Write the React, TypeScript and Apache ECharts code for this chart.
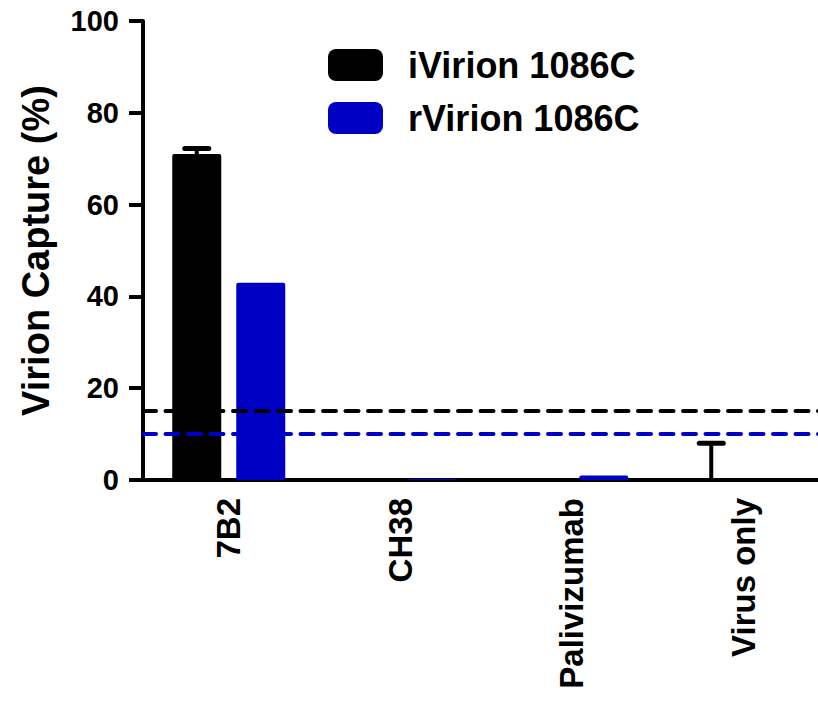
import React, { useEffect, useRef } from "react";
import * as echarts from "echarts";

const categories = ["7B2", "CH38", "Palivizumab", "Virus only"];
const seriesNames = ["iVirion 1086C", "rVirion 1086C"];
const iVirion = [71.0, 0.2, 0.2, 0];
const iVirionErr = [1.2, 0, 0, 8];
const rVirion = [43.0, 0.2, 1.0, 0];
const rVirionErr = [0, 0, 0, 0];
const thresholds = [15, 10];
const yTicks = { min: 0, max: 100, interval: 20 };

const BLACK = "#000000";
const BLUE = "#0000C4";
const FONT = "Liberation Sans";
const BAR_W = 49;
const GAP = 15;

function errSeries(vals: number[], errs: number[], offset: number, color: string) {
  return {
    type: "custom",
    silent: true,
    z: 5,
    data: vals.map((v, i) => [i, v, errs[i]]),
    renderItem: (params: any, api: any) => {
      const i = api.value(0);
      const v = api.value(1);
      const e = api.value(2);
      if (!e) return null;
      const p0 = api.coord([i, v]);
      const p1 = api.coord([i, v + e]);
      const x = p0[0] + offset;
      return {
        type: "group",
        children: [
          {
            type: "line",
            shape: { x1: x, y1: p0[1], x2: x, y2: p1[1] },
            style: { stroke: color, lineWidth: 4 },
          },
          {
            type: "line",
            shape: { x1: x - 12, y1: p1[1], x2: x + 12, y2: p1[1] },
            style: { stroke: color, lineWidth: 5, lineCap: "round" },
          },
        ],
      };
    },
  };
}

export default function App() {
  const ref = useRef<HTMLDivElement>(null);
  useEffect(() => {
    const chart = echarts.init(ref.current!, null, { renderer: "svg" });
    const off = (BAR_W + GAP) / 2;
    chart.setOption({
      animation: false,
      grid: { left: 143, right: 830 - 143 - 686, top: 21, bottom: 221, containLabel: false },
      legend: {
        left: 328,
        top: 47,
        padding: 0,
        orient: "vertical",
        itemWidth: 55,
        itemHeight: 32,
        itemGap: 17,
        icon: "roundRect",
        data: seriesNames,
        textStyle: {
          fontFamily: FONT,
          fontWeight: "bold",
          fontSize: 36,
          lineHeight: 32,
          color: "#000",
          padding: [0, 0, 0, 20],
        },
      },
      xAxis: {
        type: "category",
        data: categories,
        axisLine: { lineStyle: { color: "#000", width: 4 } },
        axisTick: { alignWithLabel: true, length: 13, lineStyle: { color: "#000", width: 4 } },
        axisLabel: {
          rotate: 90,
          margin: 18,
          color: "#000",
          fontFamily: FONT,
          fontWeight: "bold",
          fontSize: 33,
        },
      },
      yAxis: {
        type: "value",
        min: yTicks.min,
        max: yTicks.max,
        interval: yTicks.interval,
        name: "Virion Capture (%)",
        nameLocation: "middle",
        nameRotate: 90,
        nameGap: 88,
        nameTextStyle: { fontFamily: FONT, fontWeight: "bold", fontSize: 38, color: "#000" },
        splitLine: { show: false },
        axisLine: { show: true, lineStyle: { color: "#000", width: 4 } },
        axisTick: { show: true, length: 14, lineStyle: { color: "#000", width: 4 } },
        axisLabel: { margin: 24, color: "#000", fontFamily: FONT, fontWeight: "bold", fontSize: 29 },
      },
      series: [
        {
          name: seriesNames[0],
          type: "bar",
          data: iVirion,
          barWidth: BAR_W,
          barGap: (GAP / BAR_W) * 100 + "%",
          itemStyle: { color: BLACK, borderRadius: 2 },
          markLine: {
            silent: true,
            symbol: "none",
            label: { show: false },
            lineStyle: { color: BLACK, width: 4, type: [13, 9.5], cap: "round" },
            data: [{ yAxis: thresholds[0] }],
          },
        },
        {
          name: seriesNames[1],
          type: "bar",
          data: rVirion,
          barWidth: BAR_W,
          itemStyle: { color: BLUE, borderRadius: 2 },
          markLine: {
            silent: true,
            symbol: "none",
            label: { show: false },
            lineStyle: { color: BLUE, width: 4, type: [13, 9.5], cap: "round" },
            data: [{ yAxis: thresholds[1] }],
          },
        },
        errSeries(iVirion, iVirionErr, -off, BLACK),
        errSeries(rVirion, rVirionErr, off, BLUE),
      ],
    });
    return () => chart.dispose();
  }, []);
  return (
    <div style={{ position: "fixed", left: 0, top: 0, width: 818, height: 701, overflow: "hidden", background: "#fff" }}>
      <div ref={ref} style={{ width: 830, height: 701 }} />
    </div>
  );
}
